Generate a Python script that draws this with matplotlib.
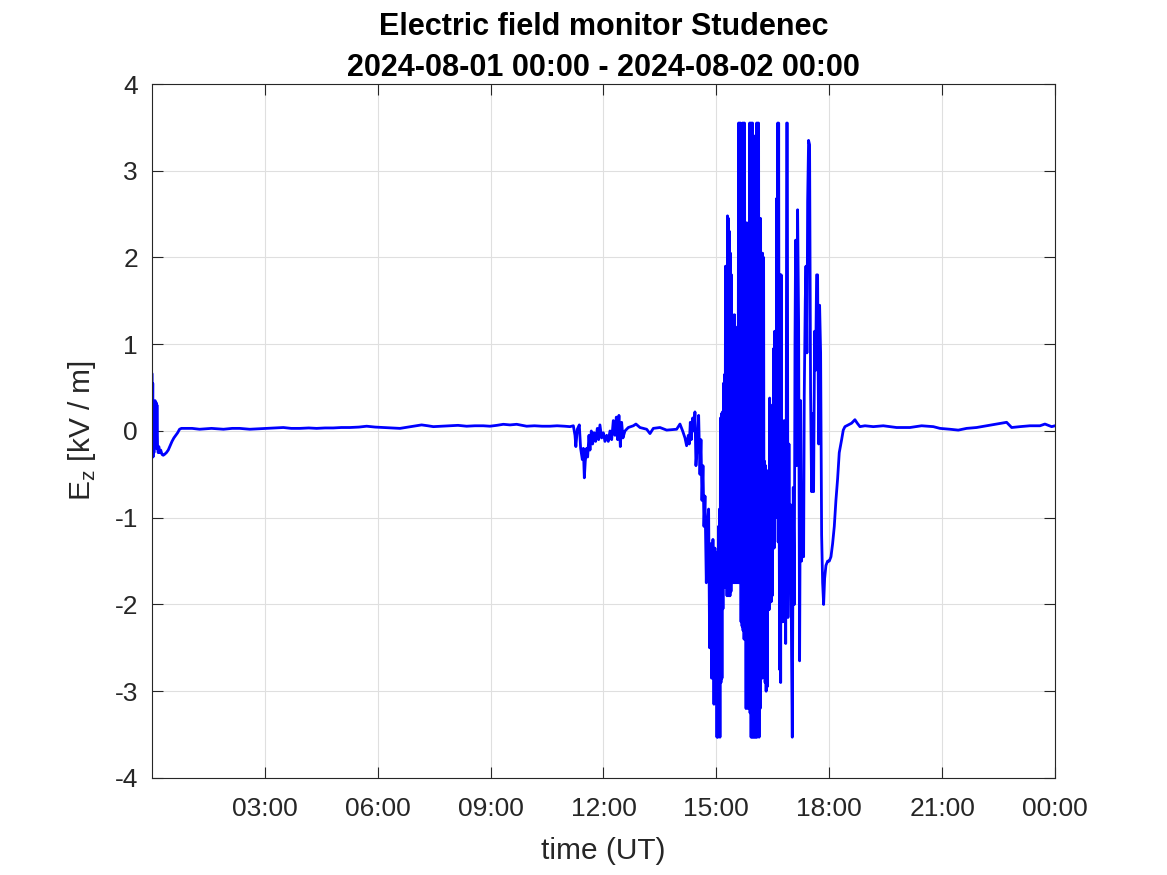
import matplotlib.pyplot as plt
import numpy as np

# minutes after 2024-08-01 00:00 UT, field in kV/m
start_min = [0, 0.3, 0.8, 1.3, 1.8, 2.5, 3.2, 4.0, 5.0, 5.8, 6.5, 7.2, 8, 9, 10, 11, 12, 14,
             16, 18, 20, 23, 26, 29, 32, 35, 38, 41, 44, 47, 52]
start_ez = [0.66, 0.66, 0.05, 0.55, -0.30, 0.05, -0.25, 0.10, 0.35, -0.10, 0.33, -0.20, 0.30,
            -0.20, -0.25, -0.18, -0.25, -0.22, -0.27, -0.28, -0.27, -0.25, -0.22, -0.17, -0.12,
            -0.08, -0.05, -0.02, 0.02, 0.03, 0.03]

day_min = [64, 76, 95, 114, 128, 140, 156, 170, 183, 196, 209.5, 222, 236, 250, 262.6, 276, 289,
           302, 315.8, 330, 342.4, 356, 369, 382, 395.5, 404, 411.5, 420, 430, 440, 448.7, 462,
           475.3, 488, 501.8, 515, 528.4, 539, 550, 560.3, 571, 581.6, 590, 597.5, 610, 622,
           634.7, 646, 658, 666.6, 672]
day_ez = [0.03, 0.02, 0.03, 0.02, 0.03, 0.03, 0.02, 0.025, 0.03, 0.035, 0.04, 0.03, 0.03, 0.035,
          0.03, 0.035, 0.035, 0.04, 0.04, 0.045, 0.055, 0.045, 0.04, 0.035, 0.03, 0.04, 0.05, 0.06,
          0.07, 0.06, 0.05, 0.055, 0.06, 0.065, 0.055, 0.06, 0.06, 0.055, 0.065, 0.077, 0.07,
          0.077, 0.065, 0.055, 0.06, 0.055, 0.055, 0.06, 0.055, 0.05, 0.06]

dist_min = [674.6, 676, 678.3, 681.5, 683.6, 686.3, 687.9, 689.5, 691, 693.2, 694.8, 696.9, 698.5,
            700.6, 702.7, 704.9, 707.5, 710.2, 712.3, 714.4, 717.1, 719.8, 722.4, 725.1, 727.7,
            730.4, 733.1, 735.7, 738.4, 740.5, 742.6, 744.7, 746.9, 749, 751.1, 754.3, 759.6,
            767.6, 771.8, 778.2, 788.9, 794.2, 799.5, 810.1, 820.8, 836.7, 842]
dist_ez = [-0.05, -0.18, 0.02, 0.07, -0.20, -0.33, -0.20, -0.54, -0.35, -0.20, -0.30, -0.05,
           -0.22, 0.00, -0.15, -0.02, -0.12, 0.03, -0.10, 0.07, -0.08, -0.02, -0.12, -0.05, -0.12,
           0.00, -0.10, 0.12, -0.05, 0.16, -0.10, 0.18, -0.18, 0.10, -0.08, 0.00, 0.04, 0.06,
           0.08, 0.04, 0.02, -0.03, 0.03, 0.04, 0.01, 0.02, 0.08]

# onset of the storm, 14:06 - 14:58
onset_min = [846.3, 850, 852.6, 855.3, 856.9, 858.5, 860, 862.2, 864.3, 865.9, 867.5, 869.6,
             871.8, 873.9, 875.5, 877.1, 878.7, 880.3, 881.9, 884, 885.6, 887.7, 889.3, 890.9,
             892.5, 894.6, 896.2, 897.8]
onset_ez = [0.00, -0.08, -0.17, -0.05, -0.15, 0.10, -0.10, 0.15, 0.00, 0.22, -0.40, -0.15,
            0.18, -0.50, -0.10, -0.80, -0.40, -1.10, -0.75, -1.75, -1.10, -0.90, -2.50, -1.30,
            -2.85, -1.25, -3.15, -1.35]

# densest part of the storm, 14:59 - 16:53
storm_min = [899.4, 900.2, 901.0, 901.8, 902.6, 903.4, 904.2, 905.0, 905.8, 906.6, 907.4, 908.2,
             909.0, 909.8, 910.6, 911.4, 912.2, 913.0, 913.8, 914.6, 915.4, 916.2, 917.0, 917.8,
             918.6, 919.4, 920.2, 921.0, 921.8, 922.6, 923.4, 924.2, 925.0, 925.8, 926.6, 927.4,
             928.2, 929.0, 929.8, 930.6, 931.4, 932.2, 933.0, 933.8, 934.6, 935.4, 936.2, 937.0,
             937.8, 938.6, 939.4, 940.2, 941.0, 941.8, 942.6, 943.4, 944.2, 945.0, 945.8, 946.6,
             947.4, 948.2, 949.0, 949.8, 950.6, 951.4, 952.2, 953.0, 953.8, 954.6, 955.4, 956.2,
             957.0, 957.8, 958.6, 959.4, 960.2, 961.0, 961.8, 962.6, 963.4, 964.2, 965.0, 965.8,
             966.6, 967.4, 968.2, 969.0, 969.8, 970.6, 971.4, 972.2, 973.0, 973.8, 974.6, 975.4,
             976.2, 977.0, 977.8, 978.6, 979.4, 980.2, 981.0, 981.8, 982.6, 983.4, 984.2, 985.0,
             985.8, 986.6, 987.4, 988.2, 989.0, 989.8, 990.6, 991.4, 992.2, 993.0, 993.8, 994.6,
             995.4, 996.2, 997.0, 997.8, 998.6, 999.4, 1000.2, 1001.0, 1001.8, 1002.6, 1003.4,
             1004.2, 1005.0, 1005.8, 1006.6, 1007.4, 1008.2, 1009.0, 1009.8, 1010.6, 1011.4,
             1012.2, 1013.2]
storm_ez = [-3.10, -1.40, -3.53, -1.45, -3.53, -1.10, -3.20, -0.90, -3.53, 0.15, -2.90, 0.20,
            -2.85, 0.22, -2.05, 0.55, -1.75, 0.65, -1.80, 1.90, -1.75, 1.85, -1.90, 2.48,
            -1.85, 2.45, -1.90, 2.30, -1.90, 2.05, -1.85, 1.80, -1.75, 1.34, -1.70, 1.30,
            -1.75, 1.34, -1.70, 1.20, -1.75, 0.43, -1.72, 0.98, -1.75, 3.55, -1.75, 3.55,
            -1.70, 3.55, -2.20, 1.76, -2.25, 3.55, -2.30, 3.55, -2.40, 3.55, -2.35, 0.75,
            -3.20, 2.40, -3.15, 2.35, -3.20, 2.40, -2.90, 3.55, -3.25, 3.55, -3.53, 3.55,
            -3.53, 3.55, -3.53, 3.15, -3.53, 3.40, -3.53, 3.40, -3.53, 3.55, -3.53, 3.55,
            -3.00, 3.55, -3.53, 2.45, -3.20, 2.45, -2.85, 2.05, -2.85, 2.05, -2.74, 2.00,
            -2.74, -0.35, -2.90, -0.40, -3.00, -0.50, -2.95, -0.50, -2.06, -0.45, -2.06, 0.38,
            -1.97, 0.30, -1.97, 0.03, -1.90, 0.10, -1.35, 0.95, -1.35, 1.15, -1.00, 1.10,
            -0.98, 2.68, -1.00, 3.55, -1.28, 3.55, -1.00, -2.75, 1.80, -2.90, 1.80,
            -2.15, 0.08, -2.20, 0.08, -2.10, 0.12, -2.20, -0.55, -2.45, -0.55,
            3.55, 3.55]

# last bursts and recovery, 16:54 - 18:16
late_min = [1014.2, 1015.8, 1017.4, 1018.4, 1020, 1021.1, 1022.7, 1024.3, 1025.4, 1026.4, 1028,
            1029.6, 1031.2, 1032.8, 1034.4, 1036, 1037.6, 1039.2, 1040.2, 1041.8, 1042.9,
            1044.5, 1045.6, 1047.1, 1048.7, 1050.3, 1051.9, 1053.5, 1055.1, 1056.7, 1058.3,
            1059.9, 1061.5, 1063.1, 1064.7, 1066.3, 1067.9, 1069.5, 1071.1, 1072.7, 1074.8,
            1077.5, 1080.1, 1082.8, 1085.4, 1088.1, 1090.7, 1093.4, 1096]
late_ez = [-2.15, -0.15, -1.80, -0.85, -2.60, -3.53, -0.65, -2.00, 1.00, 2.20, -0.40, 2.55, 1.25,
           -2.65, 0.35, -1.50, -0.80, -1.45, 0.40, 1.50, 1.90, 0.90, 2.65, 3.35, 3.30, 0.45,
           -0.70, 0.20, -0.70, 1.15, 0.70, 1.80, 1.80, -0.15, 1.45, 0.90, -1.20, -1.75, -2.00,
           -1.70, -1.55, -1.50, -1.50, -1.45, -1.30, -1.10, -0.80, -0.55, -0.25]

evening_min = [1099.8, 1102.4, 1105.1, 1110.4, 1115.7, 1121, 1124.7, 1129, 1137, 1150.3, 1166.2,
               1187.5, 1208.7, 1227.3, 1246, 1256.6, 1272.5, 1285.8, 1299.1, 1315, 1331, 1347,
               1362.9, 1370.9, 1384.2, 1400.1, 1416.1, 1424, 1434.7, 1440]
evening_ez = [-0.10, 0.01, 0.05, 0.07, 0.09, 0.13, 0.09, 0.05, 0.06, 0.05, 0.06, 0.04, 0.04,
              0.06, 0.05, 0.03, 0.02, 0.01, 0.03, 0.04, 0.06, 0.08, 0.10, 0.04, 0.05, 0.06, 0.06,
              0.08, 0.05, 0.06]

tick_hours = [3, 6, 9, 12, 15, 18, 21, 24]
tick_labels = ['03:00', '06:00', '09:00', '12:00', '15:00', '18:00', '21:00', '00:00']

t_min = np.concatenate([start_min, day_min, dist_min, onset_min, storm_min, late_min, evening_min])
ez = np.concatenate([start_ez, day_ez, dist_ez, onset_ez, storm_ez, late_ez, evening_ez])
t_hour = t_min / 60.0

plt.rcParams['font.family'] = ['Liberation Sans', 'DejaVu Sans']
plt.rcParams['axes.unicode_minus'] = False

fig = plt.figure(figsize=(11.67, 8.75), dpi=100)
ax = fig.add_axes([0.1302, 0.1109, 0.7738, 0.7931])
ax.plot(t_hour, ez, color='#0000ff', linewidth=2.0)

ax.set_xlim(0, 24)
ax.set_ylim(-4, 4)
ax.set_xticks(tick_hours)
ax.set_xticklabels(tick_labels)
ax.set_yticks(range(-4, 5))
ax.set_yticklabels([str(v) for v in range(-4, 5)])
ax.grid(True, color='#dfdfdf', linewidth=0.8)
ax.set_axisbelow(True)

dark = '#262626'
for s in ax.spines.values():
    s.set_color(dark)
    s.set_linewidth(0.8)
ax.tick_params(direction='in', length=8, width=0.8, colors=dark, labelsize=19,
               top=True, right=True)
ax.tick_params(axis='x', pad=14)
ax.tick_params(axis='y', pad=10)

ax.set_xlabel('time (UT)', fontsize=21.5, color=dark, labelpad=11)
ax.set_ylabel(r'E$_\mathregular{z}$ [kV / m]', fontsize=21.5, color=dark, labelpad=12)
ax.set_title('Electric field monitor Studenec\n2024-08-01 00:00 - 2024-08-02 00:00',
             fontsize=22, fontweight='bold', color='black', pad=6, linespacing=1.45)

plt.savefig('out.png', dpi=100)
